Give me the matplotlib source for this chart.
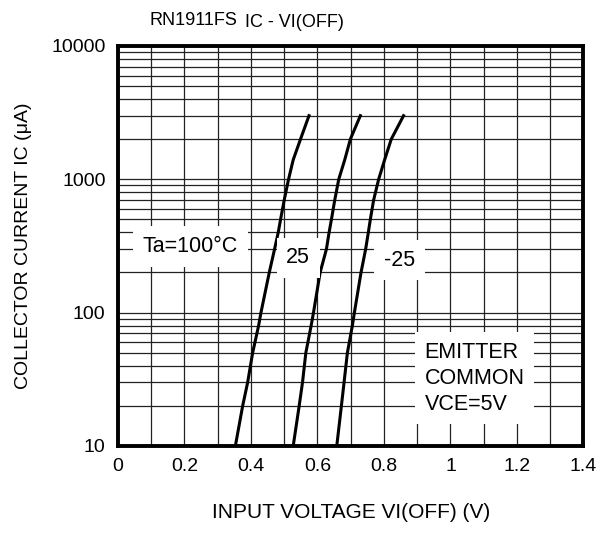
import numpy as np
import matplotlib.pyplot as plt
from matplotlib.ticker import FixedLocator, LogLocator, NullFormatter

plt.rcParams['font.family'] = ['Liberation Sans', 'DejaVu Sans']

# courbes (VI en V, IC en uA)
ic = [10, 20, 30, 50, 80, 100, 200, 300, 400, 500, 700, 1000, 1400, 2000, 3000]
vi_100 = [0.353, 0.375, 0.390, 0.405, 0.423, 0.430, 0.455, 0.471, 0.482, 0.489,
          0.500, 0.513, 0.527, 0.549, 0.5745]
vi_25 = [0.527, 0.545, 0.555, 0.565, 0.581, 0.588, 0.608, 0.627, 0.635, 0.642,
         0.652, 0.664, 0.682, 0.699, 0.729]
vi_m25 = [0.658, 0.672, 0.680, 0.690, 0.705, 0.711, 0.731, 0.745, 0.753, 0.759,
          0.769, 0.784, 0.802, 0.822, 0.859]

x_ticks = [0, 0.2, 0.4, 0.6, 0.8, 1, 1.2, 1.4]
x_labels = ["0", "0.2", "0.4", "0.6", "0.8", "1", "1.2", "1.4"]
y_ticks = [10, 100, 1000, 10000]
y_labels = ["10", "100", "1000", "10000"]

fig = plt.figure(figsize=(6.14, 5.35), dpi=100)
ax = fig.add_axes([0.1922, 0.1664, 0.758, 0.7477])

ax.set_yscale("log")
ax.set_xlim(0, 1.4)
ax.set_ylim(10, 10000)

# grille
ax.xaxis.set_minor_locator(FixedLocator(np.arange(0.1, 1.4, 0.1)))
ax.yaxis.set_minor_locator(LogLocator(base=10, subs=np.arange(2, 10)))
ax.yaxis.set_minor_formatter(NullFormatter())
ax.grid(True, which="both", color="#222222", linewidth=0.9)
ax.tick_params(which="both", length=0, labelsize=14, pad=9)

ax.set_xticks(x_ticks)
ax.set_xticklabels(x_labels)
ax.set_yticks(y_ticks)
ax.set_yticklabels(y_labels)

for s in ax.spines.values():
    s.set_linewidth(2.8)

for vi in (vi_100, vi_25, vi_m25):
    ax.plot(vi, ic, color="black", linewidth=2.2)

box = dict(facecolor="white", edgecolor="none", pad=7)
ax.text(0.075, 313, "Ta=100°C", fontsize=15.5, va="center", ha="left", bbox=box, zorder=5)
ax.text(0.542, 258, "25", fontsize=15.5, va="center", ha="center", bbox=box, zorder=5)
ax.text(0.847, 248, "-25", fontsize=15.5, va="center", ha="center", bbox=box, zorder=5)
ax.text(0.922, 32.2, "EMITTER\nCOMMON\nVCE=5V", fontsize=15.5, va="center", ha="left",
        linespacing=1.3, bbox=dict(facecolor="white", edgecolor="none", pad=7), zorder=5)

fig.text(0.244, 0.962, "RN1911FS", fontsize=13, ha="left", va="center")
fig.text(0.399, 0.958, "IC - VI(OFF)", fontsize=13, ha="left", va="center")

ax.set_xlabel("INPUT VOLTAGE VI(OFF) (V)", fontsize=15, labelpad=20)
ax.set_ylabel("COLLECTOR CURRENT IC (μA)", fontsize=14, labelpad=14)

fig.savefig("out.png", dpi=100)
